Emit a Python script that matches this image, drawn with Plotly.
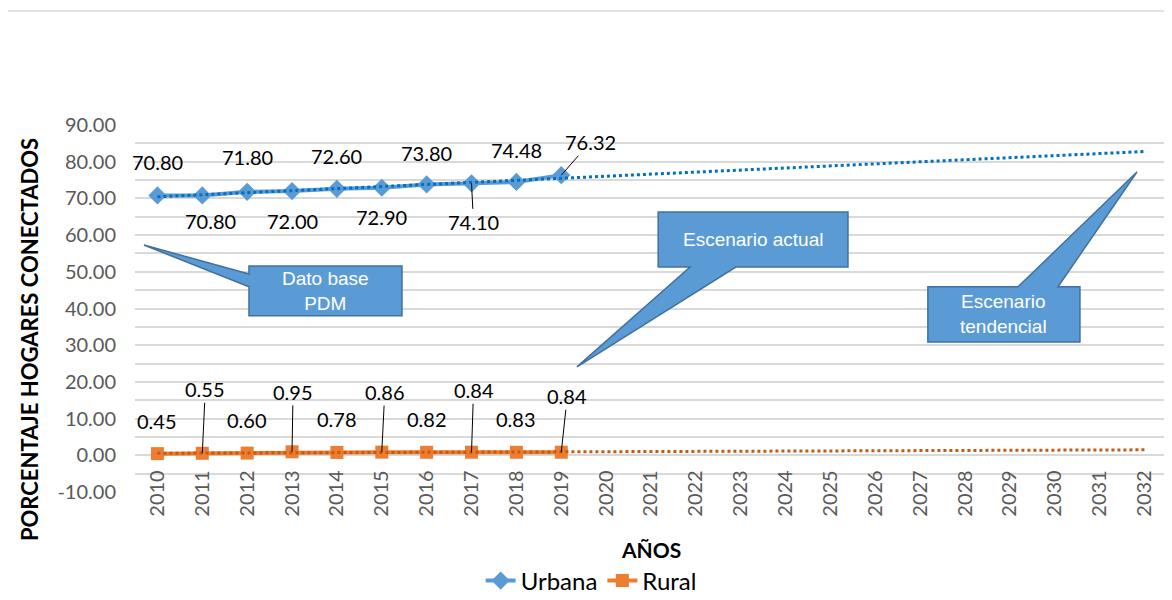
import plotly.graph_objects as go

# data
years = list(range(2010, 2033))
obs_years = list(range(2010, 2020))
urbana = [70.80, 70.80, 71.80, 72.00, 72.60, 72.90, 73.80, 74.10, 74.48, 76.32]
rural = [0.45, 0.55, 0.60, 0.95, 0.78, 0.86, 0.82, 0.84, 0.83, 0.84]
# linear trend lines (Excel trendline) read at both ends, 2010 and 2032
trend_years = [2010, 2032]
trend_urbana = [70.43, 82.78]
trend_rural = [0.56, 1.49]
y_ticks = [-10, 0, 10, 20, 30, 40, 50, 60, 70, 80, 90]

FONT = "Lato"
BLUE = "#5B9BD5"
ORANGE = "#ED7D31"

fig = go.Figure()

fig.add_trace(go.Scatter(
    x=obs_years, y=urbana, name="Urbana", mode="lines+markers",
    line=dict(color=BLUE, width=4),
    marker=dict(symbol="diamond", size=14, color=BLUE),
))
fig.add_trace(go.Scatter(
    x=obs_years, y=rural, name="Rural", mode="lines+markers",
    line=dict(color=ORANGE, width=4),
    marker=dict(symbol="square", size=13, color=ORANGE),
))
fig.add_trace(go.Scatter(
    x=trend_years, y=trend_urbana, mode="lines", showlegend=False,
    line=dict(color="#0070C0", width=3, dash="dot"), hoverinfo="skip",
))
fig.add_trace(go.Scatter(
    x=trend_years, y=trend_rural, mode="lines", showlegend=False,
    line=dict(color="#C55A11", width=3, dash="dot"), hoverinfo="skip",
))

# label placement per point: (dx, dy, leader line)  dy > 0 is up
urb_place = [(0, 33, False), (8, -26, False), (0, 35, False), (0, -30, False),
             (0, 33, False), (0, -29, False), (0, 31, False), (2, -39, True),
             (0, 32, False), (29, 33, True)]
rur_place = [(0, 33, False), (3, 64, True), (0, 33, False), (1, 60, True),
             (0, 33, False), (3, 60, True), (0, 33, False), (2, 62, True),
             (0, 33, False), (6, 56, True)]

annotations = []
for series, place in ((urbana, urb_place), (rural, rur_place)):
    for yr, v, (dx, dy, leader) in zip(obs_years, series, place):
        a = dict(x=yr, y=v, xref="x", yref="y", text=f"{v:.2f}",
                 font=dict(family=FONT, size=20, color="#000000"))
        if leader:
            a.update(showarrow=True, arrowhead=0, arrowwidth=1,
                     arrowcolor="#000000", ax=dx, ay=-dy, standoff=0)
        else:
            a.update(showarrow=False, xshift=dx, yshift=dy)
        annotations.append(a)

# callout boxes (box + pointer wedge drawn as one path)
callouts = [
    # Dato base PDM, wedge on the left side
    ("M 2012.04,51.6 L 2015.45,51.6 L 2015.45,38.0 L 2012.04,38.0 "
     "L 2012.04,45.9 L 2009.70,57.3 L 2012.04,49.4 Z",
     "Dato base<br>PDM", 2013.745, 44.8),
    # Escenario actual, wedge below
    ("M 2021.16,66.3 L 2025.39,66.3 L 2025.39,51.3 L 2022.89,51.3 "
     "L 2019.35,24.1 L 2021.87,51.3 L 2021.16,51.3 Z",
     "Escenario actual", 2023.275, 58.8),
    # Escenario tendencial, wedge above
    ("M 2027.17,45.9 L 2029.18,45.9 L 2031.83,77.2 L 2030.07,45.9 "
     "L 2030.56,45.9 L 2030.56,30.9 L 2027.17,30.9 Z",
     "Escenario<br>tendencial", 2028.865, 38.4),
]
shapes = []
for path, txt, cx, cy in callouts:
    shapes.append(dict(type="path", path=path, xref="x", yref="y",
                       fillcolor=BLUE, line=dict(color="#41719C", width=1.5),
                       layer="above"))
    annotations.append(dict(x=cx, y=cy, xref="x", yref="y", text=txt,
                            showarrow=False,
                            font=dict(family="Liberation Sans", size=19,
                                      color="#FFFFFF")))

# axis titles
annotations.append(dict(x=0.5, y=-0.158, xref="paper", yref="paper",
                        xanchor="center", yanchor="middle",
                        text="<b>AÑOS</b>", showarrow=False,
                        font=dict(family=FONT, size=21, color="#000000")))
annotations.append(dict(x=-0.1027, y=0.414, xref="paper", yref="paper",
                        xanchor="center", yanchor="middle",
                        text="<b>PORCENTAJE HOGARES CONECTADOS</b>",
                        textangle=-90, showarrow=False,
                        font=dict(family=FONT, size=22, color="#000000")))

# chart area border
shapes.append(dict(type="rect", xref="paper", yref="paper",
                   x0=-0.126, x1=1.2, y0=-0.5, y1=1.3106,
                   line=dict(color="#D9D9D9", width=1.5), layer="below"))

# page body adds an 8px offset, so the figure is 8px smaller and shifted
fig.update_layout(
    width=1164, height=592,
    margin=dict(l=127, r=5, t=117, b=108, autoexpand=False),
    paper_bgcolor="white", plot_bgcolor="white",
    font=dict(family=FONT, size=18, color="#595959"),
    showlegend=True,
    legend=dict(orientation="h", x=0.442, xanchor="center", y=-0.181,
                yanchor="top", font=dict(family=FONT, size=24, color="#000000")),
    annotations=annotations,
    shapes=shapes,
)

fig.update_xaxes(
    range=[2009.5, 2032.5], tickvals=years, ticktext=[str(y) for y in years],
    tickangle=-90, showgrid=False, zeroline=False, showline=False,
    anchor="free", position=0.1, ticklabelstandoff=10, automargin=False,
    tickfont=dict(family=FONT, size=20, color="#595959"),
)
fig.update_yaxes(
    range=[-10, 90], tickvals=y_ticks, ticktext=[f"{v:.2f}" for v in y_ticks],
    showgrid=True, gridcolor="#D9D9D9", gridwidth=2, zeroline=False,
    minor=dict(dtick=5, tick0=0, showgrid=True, gridcolor="#D9D9D9", gridwidth=2),
    ticklabelstandoff=18, automargin=False,
    tickfont=dict(family=FONT, size=20, color="#595959"),
)

fig.write_html("out.html")
